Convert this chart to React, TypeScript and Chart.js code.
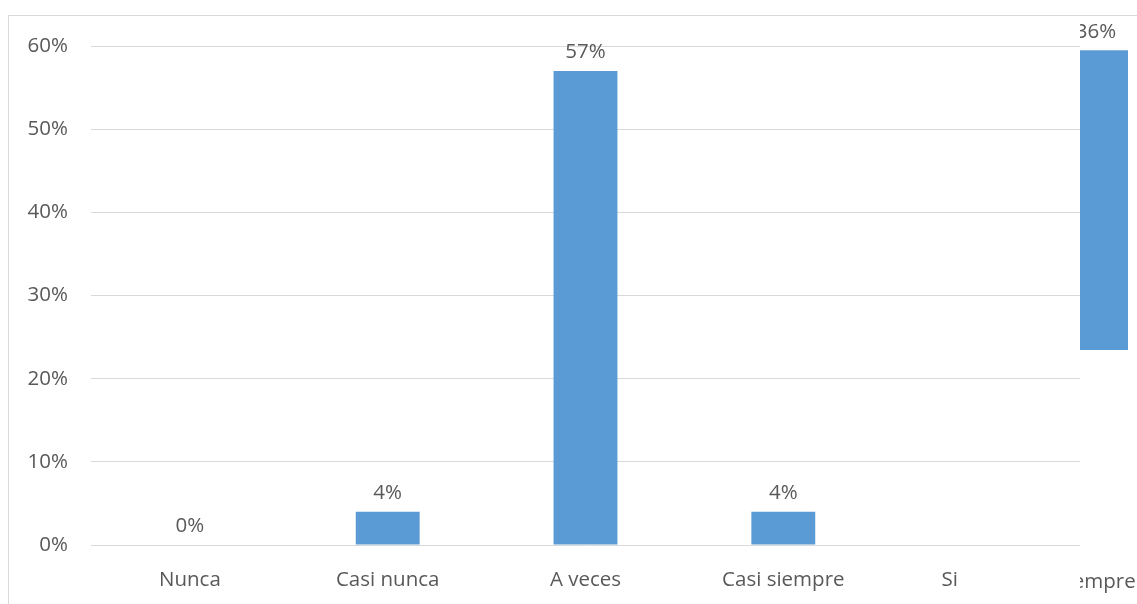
import React, { useEffect, useRef } from "react";
import { Chart, registerables } from "chart.js";

Chart.register(...registerables);

const categories = ["Nunca", "Casi nunca", "A veces", "Casi siempre", "Siempre"];
const values = [0, 4, 57, 4, 36];
const yTicks = [0, 10, 20, 30, 40, 50, 60];

const FONT = "'Open Sans', sans-serif";
const FONT_SIZE = 20.5;
const TEXT = "#595959";
const BAR = "#5B9BD5";
const GRID = "#d9d9d9";
const X_PAD = 15;

const labelPlugin = {
  id: "valueLabels",
  afterDatasetsDraw(chart: any) {
    const ctx = chart.ctx;
    const meta = chart.getDatasetMeta(0);
    const data = chart.data.datasets[0].data;
    ctx.save();
    ctx.font = `${FONT_SIZE}px ${FONT}`;
    ctx.fillStyle = TEXT;
    ctx.textAlign = "center";
    ctx.textBaseline = "alphabetic";
    meta.data.forEach((el: any, i: number) => {
      const v = data[i];
      if (v == null) return;
      ctx.fillText(`${v}%`, el.x, el.y - 13);
    });
    ctx.restore();
  },
};

export default function App() {
  const mainRef = useRef<HTMLCanvasElement>(null);
  const stripRef = useRef<HTMLCanvasElement>(null);

  useEffect(() => {
    const main = new Chart(mainRef.current!, {
      type: "bar",
      data: {
        labels: categories,
        datasets: [
          {
            data: values.map((v, i) => (i === values.length - 1 ? null : v)),
            backgroundColor: BAR,
            barPercentage: 0.323,
            categoryPercentage: 1,
          },
        ],
      },
      options: {
        animation: false,
        responsive: false,
        devicePixelRatio: 1,
        layout: { padding: { top: 46, right: 57, left: 0, bottom: 0 } },
        plugins: { legend: { display: false }, tooltip: { enabled: false } },
        scales: {
          x: {
            grid: { display: false },
            border: { display: false },
            ticks: {
              color: TEXT,
              font: { family: FONT, size: FONT_SIZE },
              padding: X_PAD,
              maxRotation: 0,
            },
            afterFit: (s: any) => {
              s.height = 59;
            },
          },
          y: {
            min: 0,
            max: 60,
            grid: { color: GRID, lineWidth: 1, drawTicks: false },
            border: { display: false },
            ticks: {
              color: TEXT,
              font: { family: FONT, size: FONT_SIZE },
              padding: 23,
              callback: (v: any) => `${v}%`,
            },
            afterBuildTicks: (s: any) => {
              s.ticks = yTicks.map((v) => ({ value: v }));
            },
            afterFit: (s: any) => {
              s.width = 91;
            },
          },
        },
      },
      plugins: [labelPlugin],
    });

    const last = values.length - 1;
    const strip = new Chart(stripRef.current!, {
      type: "bar",
      data: {
        labels: [categories[last]],
        datasets: [
          {
            data: [values[last]],
            backgroundColor: BAR,
            barPercentage: 1,
            categoryPercentage: 1,
          },
        ],
      },
      options: {
        animation: false,
        responsive: false,
        devicePixelRatio: 1,
        layout: { padding: { top: 0, right: 76, left: 60, bottom: 0 } },
        plugins: { legend: { display: false }, tooltip: { enabled: false } },
        scales: {
          x: {
            grid: {
              display: true,
              drawOnChartArea: false,
              drawTicks: true,
              tickLength: 205,
              color: "rgba(0,0,0,0)",
            },
            border: { display: false },
            ticks: {
              color: TEXT,
              font: { family: FONT, size: FONT_SIZE },
              padding: X_PAD,
              maxRotation: 0,
              autoSkip: false,
            },
            afterFit: (s: any) => {
              s.height = 254;
            },
          },
          y: { display: false, min: 0, max: 60 },
        },
      },
      plugins: [labelPlugin],
    });

    return () => {
      main.destroy();
      strip.destroy();
    };
  }, []);

  return (
    <div>
      <canvas
        ref={mainRef}
        width={1137}
        height={604}
        style={{ position: "absolute", left: 0, top: 0, width: 1137, height: 604 }}
      />
      <div
        style={{
          position: "absolute",
          left: 959,
          top: 560,
          width: 121,
          height: 44,
          background: "#fff",
        }}
      />
      <div
        style={{
          position: "absolute",
          left: 1080,
          top: 0,
          width: 57,
          height: 604,
          overflow: "hidden",
        }}
      >
        <canvas
          ref={stripRef}
          width={200}
          height={753}
          style={{ position: "absolute", left: -76, top: -149, width: 200, height: 753 }}
        />
      </div>
      <div
        style={{
          position: "absolute",
          left: 8,
          top: 15,
          width: 1129,
          height: 589,
          borderLeft: `1px solid ${GRID}`,
          borderTop: `1px solid ${GRID}`,
          boxSizing: "border-box",
          pointerEvents: "none",
        }}
      />
    </div>
  );
}
